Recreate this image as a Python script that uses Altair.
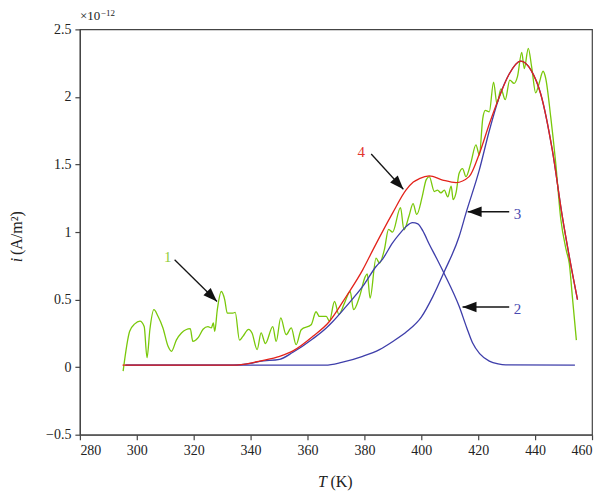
import altair as alt
import pandas as pd

# ---- curve 1: measured current (green) ----
g_T = [295.2, 297.5, 299.3, 301.1, 302.6, 303.6, 304.6, 306.0, 307.5, 309.2,
       311.0, 312.2, 313.9, 315.7, 318.8, 319.7, 321.5, 323.3, 325.0, 326.2,
       326.9, 327.4, 328.3, 329.7, 330.9, 331.8, 333.8, 334.6, 336.1, 337.3,
       339.3, 340.5, 342.3, 343.7, 345.2, 347.8, 349.0, 350.6, 352.5, 354.3,
       356.0, 357.8, 361.3, 363.0, 364.2, 366.6, 367.7, 369.5, 371.0, 373.0,
       375.0, 376.2, 378.3, 380.3, 381.0, 382.0, 384.1, 385.3, 387.0, 388.5,
       389.9, 392.7, 393.9, 395.7, 397.1, 398.4, 400.3, 401.7, 402.8, 404.6,
       405.7, 406.9, 408.1, 409.3, 410.5, 411.2, 412.2, 413.3, 414.5, 415.7,
       417.4, 419.2, 420.4, 421.6, 422.5, 423.9, 425.4, 426.6, 428.0, 429.5,
       431.1, 432.6, 433.8, 435.3, 436.2, 437.6, 438.8, 440.2, 441.4, 442.8,
       443.7, 445.5, 447.2, 449.0, 451.0, 452.0, 453.1, 454.5]
g_i = [-0.03, 0.265, 0.32, 0.34, 0.30, 0.07, 0.277, 0.425, 0.375, 0.29,
       0.154, 0.117, 0.20, 0.253, 0.285, 0.19, 0.216, 0.28, 0.30, 0.29,
       0.327, 0.265, 0.425, 0.56, 0.50, 0.40, 0.40, 0.405, 0.20, 0.228,
       0.28, 0.253, 0.13, 0.253, 0.175, 0.30, 0.19, 0.364, 0.24, 0.29,
       0.166, 0.277, 0.314, 0.41, 0.375, 0.375, 0.34, 0.486, 0.39, 0.474,
       0.56, 0.425, 0.523, 0.67, 0.69, 0.511, 0.807, 0.77, 0.868, 1.02,
       1.0, 1.18, 1.016, 1.12, 1.21, 1.13, 1.26, 1.386, 1.41, 1.30,
       1.31, 1.29, 1.31, 1.26, 1.34, 1.24, 1.29, 1.435, 1.47, 1.41,
       1.51, 1.645, 1.57, 1.84, 1.90, 1.89, 2.11, 1.95, 2.06, 1.98,
       2.125, 2.10, 2.15, 2.33, 2.21, 2.36, 2.22, 2.03, 2.10, 2.19,
       2.14, 1.85, 1.52, 1.10, 0.86, 0.77, 0.52, 0.20]

# ---- curve 2: first peak (blue) ----
b2_T = [296, 334, 340, 343.2, 350.2, 354.9, 361.9, 366.6, 368.9, 373.6,
        379.4, 384.1, 386.4, 389.9, 392.5, 394.6, 396.9, 398.8, 400.5, 402.8,
        405.5, 408.1, 413.3, 416.0, 418.0, 420.5, 423.9, 427.0, 429.7, 454]
b2_i = [0.015, 0.015, 0.028, 0.043, 0.058, 0.11, 0.21, 0.29, 0.338, 0.45,
        0.597, 0.745, 0.80, 0.92, 0.99, 1.04, 1.07, 1.06, 1.01, 0.91,
        0.80, 0.69, 0.45, 0.29, 0.18, 0.10, 0.045, 0.024, 0.017, 0.015]

# ---- curve 3: second peak (blue) ----
b3_T = [296, 366.3, 372, 379.4, 385.3, 390, 395, 400, 404,
        408.1, 413.3, 415.7, 420.4, 423.9, 427.4, 430.9, 434.9, 438.5, 442.0,
        446.1, 449.6, 452.0, 454.9]
b3_i = [0.015, 0.015, 0.035, 0.08, 0.13, 0.19, 0.265, 0.37, 0.52,
        0.708, 0.967, 1.14, 1.46, 1.75, 2.0, 2.17, 2.265, 2.2, 2.02,
        1.6, 1.11, 0.82, 0.5]

# ---- curve 4: sum (red) ----
r_T = [295, 334, 340, 343.2, 350.2, 354.9, 361.9, 367.7, 373.6, 379.4,
       383.0, 389.9, 394.6, 397.2, 399.3, 402.8, 407.5, 412.2, 416.8, 420.4,
       423.9, 427.4, 430.9, 434.9, 438.5, 442.0, 446.1, 449.6, 452.0, 454.9]
r_i = [0.015, 0.015, 0.03, 0.045, 0.08, 0.12, 0.228, 0.338, 0.523, 0.72,
       0.868, 1.14, 1.31, 1.37, 1.395, 1.415, 1.385, 1.366, 1.41, 1.58,
       1.80, 2.0, 2.17, 2.265, 2.2, 2.02, 1.6, 1.11, 0.82, 0.5]

# ---- annotations ----
lab_text = ["1", "4", "3", "2"]
lab_T = [310.9, 378.85, 433.8, 433.8]
lab_i = [0.817, 1.595, 1.134, 0.43]
lab_color = ["#8fce3a", "#e2332c", "#4848b0", "#4848b0"]
arr_T0 = [313.3, 382.4, 430.9, 430.9]
arr_i0 = [0.795, 1.578, 1.15, 0.445]
arr_T1 = [328.2, 393.7, 416.3, 414.5]
arr_i1 = [0.486, 1.317, 1.15, 0.445]
arr_angle = [134.6, 137.5, 270, 270]

x_ticks = [280, 300, 320, 340, 360, 380, 400, 420, 440, 460]
y_ticks = [-0.5, 0, 0.5, 1, 1.5, 2, 2.5]

SERIF = "Liberation Serif"
x_scale = alt.Scale(domain=[280, 460], nice=False, zero=False)
y_scale = alt.Scale(domain=[-0.5, 2.5], nice=False, zero=False)
x_axis = alt.Axis(values=x_ticks, title=None, grid=False, tickSize=5, labelPadding=4)
y_axis = alt.Axis(values=y_ticks, format="~g", title=None, grid=False, tickSize=5, labelPadding=4)


def curve(T, I, color, interp):
    df = pd.DataFrame({"T": T, "i": I})
    return alt.Chart(df).mark_line(color=color, strokeWidth=1.3, interpolate=interp).encode(
        x=alt.X("T:Q", scale=x_scale, axis=x_axis),
        y=alt.Y("i:Q", scale=y_scale, axis=y_axis),
    )


green = curve(g_T, g_i, "#79c80a", "monotone")
blue2 = curve(b2_T, b2_i, "#3e3eaa", "monotone")
blue3 = curve(b3_T, b3_i, "#3e3eaa", "monotone")
red = curve(r_T, r_i, "#e3231b", "monotone")

arr_df = pd.DataFrame({"T0": arr_T0, "i0": arr_i0, "T1": arr_T1, "i1": arr_i1, "ang": arr_angle})
arrow_lines = alt.Chart(arr_df).mark_rule(color="#151515", strokeWidth=1.3).encode(
    x=alt.X("T0:Q", scale=x_scale), y=alt.Y("i0:Q", scale=y_scale),
    x2="T1:Q", y2="i1:Q",
)
arrow_heads = alt.Chart(arr_df).mark_point(
    shape="M0,0L-0.37,1L0.37,1Z", filled=True, size=784, color="#111111", opacity=1, strokeWidth=0
).encode(
    x=alt.X("T1:Q", scale=x_scale), y=alt.Y("i1:Q", scale=y_scale),
    angle=alt.Angle("ang:Q", scale=None),
)

lab_df = pd.DataFrame({"t": lab_text, "T": lab_T, "i": lab_i, "c": lab_color})
labels = alt.Chart(lab_df).mark_text(font=SERIF, fontSize=15, baseline="middle", align="center").encode(
    x=alt.X("T:Q", scale=x_scale), y=alt.Y("i:Q", scale=y_scale),
    text="t:N", color=alt.Color("c:N", scale=None),
)

one = pd.DataFrame({"k": [0]})


def txt(s, x, y, **kw):
    return alt.Chart(one).mark_text(text=s, font=SERIF, color="#222222", **kw).encode(
        x=alt.value(x), y=alt.value(y))


xt1 = txt("T", 243, 453, fontSize=16, fontStyle="italic", align="center", baseline="middle")
xt2 = txt("(K)", 251, 453, fontSize=16, align="left", baseline="middle")
yt1 = txt("i", -63, 231, fontSize=16, fontStyle="italic", angle=270, align="center", baseline="middle")
yt2 = txt("(A/m\u00b2)", -63, 226, fontSize=16, angle=270, align="left", baseline="middle")
exp1 = txt("\u00d710", 0, -13, fontSize=13, align="left", baseline="middle")
exp2 = txt("\u221212", 21, -16, fontSize=9, align="left", baseline="middle")

chart = alt.layer(
    green, blue2, blue3, red, arrow_lines, arrow_heads, labels,
    xt1, xt2, yt1, yt2, exp1, exp2,
).properties(
    width=513, height=406,
    padding={"left": 72, "top": 21, "right": 5, "bottom": 62},
    autosize=alt.AutoSizeParams(type="none"),
).configure_view(
    stroke="#444444", strokeWidth=1.2
).configure_axis(
    domainColor="#444444", tickColor="#444444", domainWidth=1.2, tickWidth=1.2,
    labelFont=SERIF, labelFontSize=14, labelColor="#222222",
)

chart.save("out.html", embed_options={"renderer": "svg", "actions": False})
